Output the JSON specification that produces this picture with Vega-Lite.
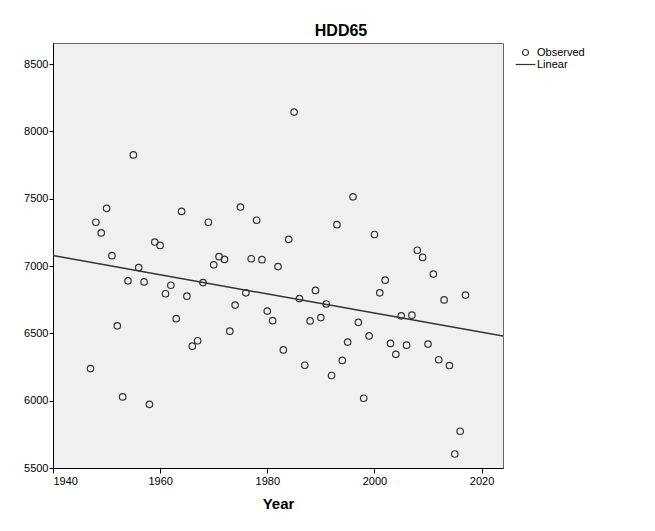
{
  "$schema": "https://vega.github.io/schema/vega-lite/v6.json",
  "width": 450,
  "height": 425,
  "autosize": {"type": "none"},
  "padding": {"left": 53, "top": 43, "right": 152, "bottom": 63},
  "background": "white",
  "title": {"text": "HDD65", "anchor": "middle", "dx": 63, "fontSize": 16, "fontWeight": "bold", "font": "Liberation Sans", "color": "#000", "offset": 4},
  "config": {
    "view": {"fill": "#f0f0f0", "stroke": "#666", "strokeWidth": 1},
    "font": "Liberation Sans",
    "axis": {"labelFont": "Liberation Sans", "labelFontSize": 11, "labelColor": "#000", "domainColor": "#000", "tickColor": "#000", "grid": false, "tickSize": 5, "labelPadding": 2}
  },
  "data": {"values": [
    {"Year": 1947, "HDD": 6238}, {"Year": 1948, "HDD": 7325}, {"Year": 1949, "HDD": 7246}, {"Year": 1950, "HDD": 7428},
    {"Year": 1951, "HDD": 7077}, {"Year": 1952, "HDD": 6556}, {"Year": 1953, "HDD": 6028}, {"Year": 1954, "HDD": 6890},
    {"Year": 1955, "HDD": 7825}, {"Year": 1956, "HDD": 6988}, {"Year": 1957, "HDD": 6882}, {"Year": 1958, "HDD": 5973},
    {"Year": 1959, "HDD": 7178}, {"Year": 1960, "HDD": 7153}, {"Year": 1961, "HDD": 6794}, {"Year": 1962, "HDD": 6857},
    {"Year": 1963, "HDD": 6609}, {"Year": 1964, "HDD": 7405}, {"Year": 1965, "HDD": 6776}, {"Year": 1966, "HDD": 6405},
    {"Year": 1967, "HDD": 6445}, {"Year": 1968, "HDD": 6877}, {"Year": 1969, "HDD": 7325}, {"Year": 1970, "HDD": 7009},
    {"Year": 1971, "HDD": 7069}, {"Year": 1972, "HDD": 7049}, {"Year": 1973, "HDD": 6516}, {"Year": 1974, "HDD": 6710},
    {"Year": 1975, "HDD": 7438}, {"Year": 1976, "HDD": 6801}, {"Year": 1977, "HDD": 7054}, {"Year": 1978, "HDD": 7340},
    {"Year": 1979, "HDD": 7047}, {"Year": 1980, "HDD": 6665}, {"Year": 1981, "HDD": 6594}, {"Year": 1982, "HDD": 6996},
    {"Year": 1983, "HDD": 6377}, {"Year": 1984, "HDD": 7198}, {"Year": 1985, "HDD": 8143}, {"Year": 1986, "HDD": 6758},
    {"Year": 1987, "HDD": 6263}, {"Year": 1988, "HDD": 6592}, {"Year": 1989, "HDD": 6819}, {"Year": 1990, "HDD": 6617},
    {"Year": 1991, "HDD": 6718}, {"Year": 1992, "HDD": 6187}, {"Year": 1993, "HDD": 7307}, {"Year": 1994, "HDD": 6299},
    {"Year": 1995, "HDD": 6435}, {"Year": 1996, "HDD": 7514}, {"Year": 1997, "HDD": 6582}, {"Year": 1998, "HDD": 6018},
    {"Year": 1999, "HDD": 6481}, {"Year": 2000, "HDD": 7234}, {"Year": 2001, "HDD": 6801}, {"Year": 2002, "HDD": 6895},
    {"Year": 2003, "HDD": 6425}, {"Year": 2004, "HDD": 6344}, {"Year": 2005, "HDD": 6630}, {"Year": 2006, "HDD": 6412},
    {"Year": 2007, "HDD": 6635}, {"Year": 2008, "HDD": 7117}, {"Year": 2009, "HDD": 7064}, {"Year": 2010, "HDD": 6420},
    {"Year": 2011, "HDD": 6940}, {"Year": 2012, "HDD": 6304}, {"Year": 2013, "HDD": 6748}, {"Year": 2014, "HDD": 6261},
    {"Year": 2015, "HDD": 5604}, {"Year": 2016, "HDD": 5773}, {"Year": 2017, "HDD": 6784}
  ]},
  "layer": [
    {
      "transform": [{"regression": "HDD", "on": "Year", "extent": [1940, 2024]}],
      "mark": {"type": "line", "color": "#333", "strokeWidth": 1.5, "clip": true},
      "encoding": {
        "x": {"field": "Year", "type": "quantitative"},
        "y": {"field": "HDD", "type": "quantitative"}
      }
    },
    {
      "transform": [{"calculate": "'Observed'", "as": "series"}],
      "mark": {"type": "point", "filled": false, "stroke": "#333", "strokeWidth": 1.2, "size": 42, "opacity": 1},
      "encoding": {
        "x": {"field": "Year", "type": "quantitative",
              "scale": {"domain": [1940, 2024], "nice": false, "zero": false},
              "axis": {"values": [1940, 1960, 1980, 2000, 2020], "format": "d", "title": "Year", "titleFontSize": 15, "titleFontWeight": "bold", "titleColor": "#000", "titlePadding": 10}},
        "y": {"field": "HDD", "type": "quantitative",
              "scale": {"domain": [5500, 8656], "nice": false, "zero": false},
              "axis": {"values": [5500, 6000, 6500, 7000, 7500, 8000, 8500], "format": "d", "title": null, "tickSize": 4, "labelPadding": 1}},
        "shape": {"field": "series", "type": "nominal",
                  "scale": {"domain": ["Observed", "Linear"], "range": ["circle", "M-3.3,0H3.3"]},
                  "legend": {"title": null, "orient": "none", "legendX": 467, "legendY": 4, "symbolSize": 36, "symbolStrokeColor": "#333", "symbolStrokeWidth": 1.2, "symbolFillColor": "transparent", "labelFontSize": 11, "labelColor": "#000", "labelOffset": 6, "rowPadding": 0}}
      }
    }
  ]
}
